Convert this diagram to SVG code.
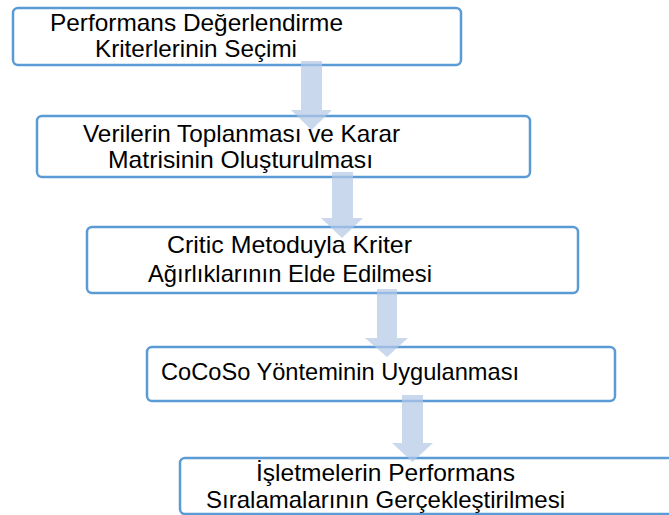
<svg xmlns="http://www.w3.org/2000/svg" width="669" height="515" viewBox="0 0 669 515">
<style>
.box{fill:#ffffff;stroke:#5b9bd5;stroke-width:2.5}
.t{font-family:"Liberation Sans",Arial,sans-serif;font-size:24px;fill:#000000}
.arr{fill:#b4c7e7;fill-opacity:0.7;stroke:none}
</style>
<rect width="669" height="515" fill="#ffffff"/>
<g id="node1">
<rect class="box" x="13" y="8" width="448" height="57" rx="5"/>
<text class="t" x="50" y="31" textLength="293" lengthAdjust="spacingAndGlyphs">Performans Değerlendirme</text>
<text class="t" x="95" y="57" textLength="202" lengthAdjust="spacingAndGlyphs">Kriterlerinin Seçimi</text>
</g>
<g id="node2">
<rect class="box" x="37" y="116" width="493" height="61" rx="5"/>
<text class="t" x="83" y="142" textLength="317" lengthAdjust="spacingAndGlyphs">Verilerin Toplanması ve Karar</text>
<text class="t" x="108" y="168" textLength="265" lengthAdjust="spacingAndGlyphs">Matrisinin Oluşturulması</text>
</g>
<g id="node3">
<rect class="box" x="87" y="227" width="491" height="66" rx="5"/>
<text class="t" x="167" y="253" textLength="245" lengthAdjust="spacingAndGlyphs">Critic Metoduyla Kriter</text>
<text class="t" x="148" y="282" textLength="284" lengthAdjust="spacingAndGlyphs">Ağırlıklarının Elde Edilmesi</text>
</g>
<g id="node4">
<rect class="box" x="147" y="347" width="468" height="54" rx="5"/>
<text class="t" x="161" y="380" textLength="358" lengthAdjust="spacingAndGlyphs">CoCoSo Yönteminin Uygulanması</text>
</g>
<g id="node5">
<rect class="box" x="180" y="458" width="510" height="56" rx="5"/>
<text class="t" x="256" y="481" textLength="259" lengthAdjust="spacingAndGlyphs">İşletmelerin Performans</text>
<text class="t" x="206" y="508" textLength="359" lengthAdjust="spacingAndGlyphs">Sıralamalarının Gerçekleştirilmesi</text>
</g>
<g id="connectors">
<polygon class="arr" points="301,61 322,61 322,110 332,110 311.5,130 291,110 301,110"/>
<polygon class="arr" points="332,172 353,172 353,218 363,218 342,238 321,218 332,218"/>
<polygon class="arr" points="377,289 397,289 397,338 408,338 387,357 365,338 377,338"/>
<polygon class="arr" points="402,395 423,395 423,443 433,443 412.5,462 392,443 402,443"/>
</g>
</svg>
